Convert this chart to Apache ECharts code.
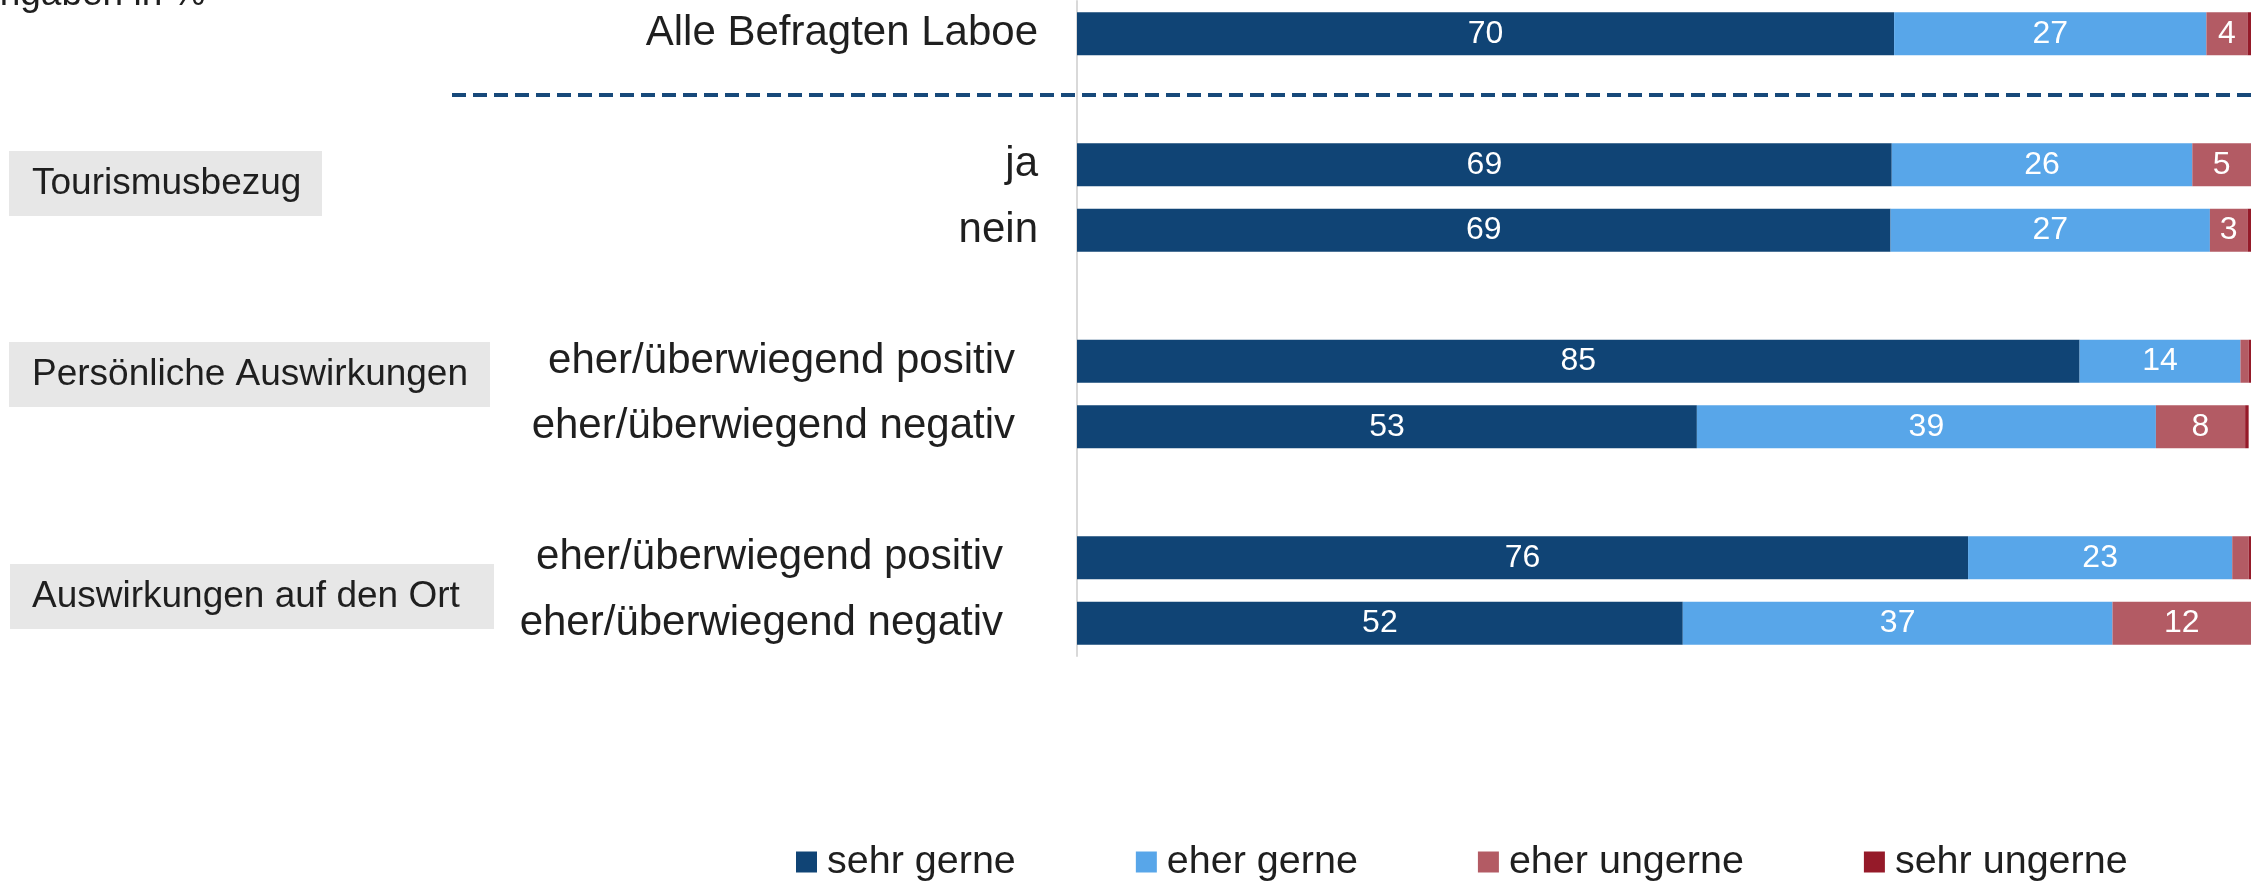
<!DOCTYPE html>
<html>
<head>
<meta charset="utf-8">
<script src="https://cdn.jsdelivr.net/npm/echarts/dist/echarts.min.js"></script>
<style>
  html, body { margin: 0; padding: 0; background: #fff; }
  #chart { width: 2267px; height: 882px; }
</style>
</head>
<body>
<div id="chart"></div>
<script>
// rows top to bottom, '' = empty slot (separator / gap between groups)
const categories = [
  'Alle Befragten Laboe', '',
  'ja', 'nein', '',
  'eher/überwiegend positiv', 'eher/überwiegend negativ', '',
  'eher/überwiegend positiv', 'eher/überwiegend negativ'
];
const seriesNames = ['sehr gerne', 'eher gerne', 'eher ungerne', 'sehr ungerne'];
const sehrGerne   = [69.6, null, 69.4, 69.3, null, 85.4, 52.8, null, 75.9, 51.6];
const eherGerne   = [26.6, null, 25.6, 27.2, null, 13.7, 39.1, null, 22.5, 36.6];
const eherUngerne = [3.5,  null, 5.0,  3.2,  null, 0.7,  7.6,  null, 1.4,  11.8];
const sehrUngerne = [0.3,  null, 0,    0.3,  null, 0.2,  0.3,  null, 0.2,  0];
const groupLabels = ['Tourismusbezug', 'Persönliche Auswirkungen', 'Auswirkungen auf den Ort'];
const unitNote = 'Angaben in %';

const colors = ['#104475', '#58a6e9', '#b35b64', '#951a29'];
const font = "'Liberation Sans', Arial, sans-serif";

const chart = echarts.init(document.getElementById('chart'));

function makeSeries(name, data, i) {
  return {
    name: name,
    type: 'bar',
    stack: 'total',
    barWidth: 43,
    data: data,
    itemStyle: { color: colors[i] },
    label: {
      show: true,
      position: 'inside',
      color: '#fff',
      fontSize: 32,
      fontFamily: font,
      formatter: (p) => (p.value >= 2.5 ? Math.round(p.value) : '')
    },
    emphasis: { disabled: true }
  };
}

// group boxes on the left
const boxes = [
  { x: 9, y: 151, w: 313 },
  { x: 9, y: 342, w: 481 },
  { x: 10, y: 564, w: 484 }
];
const graphics = [];
boxes.forEach((b, i) => {
  graphics.push({
    type: 'rect',
    shape: { x: b.x, y: b.y, width: b.w, height: 65 },
    style: { fill: '#e7e7e7' },
    silent: true
  });
  graphics.push({
    type: 'text',
    x: 32,
    y: b.y + 33,
    style: {
      text: groupLabels[i],
      font: '37px ' + font,
      fill: '#1f1f1f',
      textVerticalAlign: 'middle'
    },
    silent: true
  });
});
graphics.push({
  type: 'line',
  shape: { x1: 452, y1: 95, x2: 2251, y2: 95 },
  style: { stroke: '#17497a', lineWidth: 4, lineDash: [14, 7] },
  silent: true
});
graphics.push({
  type: 'text',
  x: -25,
  y: 13,
  style: {
    text: unitNote,
    font: '37px ' + font,
    fill: '#1f1f1f',
    textVerticalAlign: 'bottom'
  },
  silent: true
});

const option = {
  animation: false,
  textStyle: { fontFamily: font },
  grid: { left: 1077, right: 16, top: 1, height: 655 },
  legend: {
    data: seriesNames,
    left: 796,
    top: 842,
    padding: 0,
    itemGap: 120,
    itemWidth: 21,
    itemHeight: 21,
    icon: 'rect',
    selectedMode: false,
    textStyle: {
      fontSize: 39.5,
      fontFamily: font,
      color: '#1f1f1f',
      padding: [0, 0, 0, 5]
    }
  },
  xAxis: {
    type: 'value',
    min: 0,
    max: 100,
    show: false
  },
  yAxis: {
    type: 'category',
    inverse: true,
    data: categories,
    axisLine: { show: true, lineStyle: { color: '#d9d9d9', width: 2 } },
    axisTick: { show: false },
    axisLabel: {
      margin: 39,
      fontSize: 42,
      fontFamily: font,
      color: '#1f1f1f',
      formatter: (v, idx) => {
        if (idx === 5 || idx === 6) return '{p|' + v + '}';
        if (idx === 8 || idx === 9) return '{o|' + v + '}';
        return v;
      },
      rich: {
        p: { fontSize: 42, fontFamily: font, color: '#1f1f1f', padding: [0, 23, 0, 0] },
        o: { fontSize: 42, fontFamily: font, color: '#1f1f1f', padding: [0, 35, 0, 0] }
      }
    }
  },
  series: [
    makeSeries(seriesNames[0], sehrGerne, 0),
    makeSeries(seriesNames[1], eherGerne, 1),
    makeSeries(seriesNames[2], eherUngerne, 2),
    makeSeries(seriesNames[3], sehrUngerne, 3)
  ],
  graphic: graphics
};

chart.setOption(option);
</script>
</body>
</html>
